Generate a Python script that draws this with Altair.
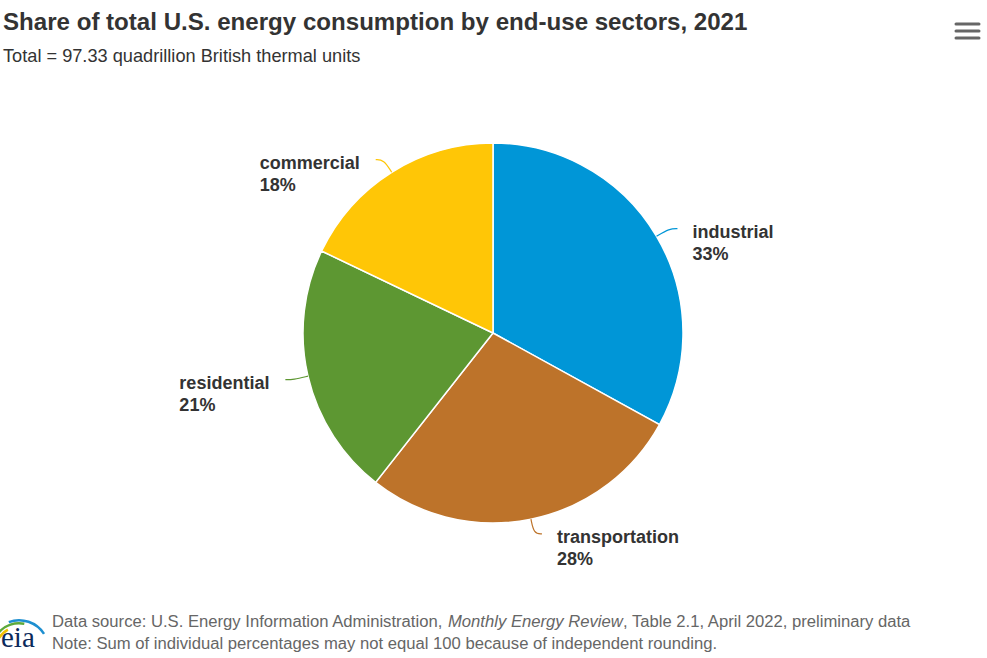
import math
import altair as alt
import pandas as pd

# ---- data ----
sectors = ["industrial", "transportation", "residential", "commercial"]
shares = [33.0, 27.6, 21.5, 17.9]
pct_labels = ["33%", "28%", "21%", "18%"]
colors = ["#0096D7", "#BD732A", "#5D9732", "#FFC606"]

title_text = "Share of total U.S. energy consumption by end-use sectors, 2021"
subtitle_text = "Total = 97.33 quadrillion British thermal units"
source_a = "Data source: U.S. Energy Information Administration,"
source_b = "Monthly Energy Review"
source_c = ", Table 2.1, April 2022, preliminary data"
note_text = "Note: Sum of individual percentages may not equal 100 because of independent rounding."

# ---- style ----
FONT = "Liberation Sans"
W, H = 987, 658
CX, CY, R = 493, 333, 190
LABEL_SIZE = 18
# approximate rendered width (px) of the bold sector names at LABEL_SIZE,
# used to left-align both label lines for labels on the left side
NAME_W = {"industrial": 81, "transportation": 122, "residential": 90, "commercial": 100}

df = pd.DataFrame({"sector": sectors, "share": shares, "pct": pct_labels,
                   "order": list(range(len(sectors)))})
df["name_w"] = df["sector"].map(NAME_W)

color = alt.Color("sector:N", scale=alt.Scale(domain=sectors, range=colors), legend=None)
base = alt.Chart(df)

pie = base.mark_arc(radius=R, stroke="white", strokeWidth=1.5).encode(
    theta=alt.Theta("share:Q", stack=True),
    order=alt.Order("order:Q"),
    color=color,
    x=alt.value(CX), y=alt.value(CY),
)

geo = base.transform_window(
    cum="sum(share)", sort=[alt.SortField("order")], frame=[None, 0]
).transform_joinaggregate(
    total="sum(share)"
).transform_calculate(
    mid="(datum.cum - datum.share/2) / datum.total * 2 * PI"
).transform_calculate(
    side="sin(datum.mid) >= 0 ? 1 : -1",
    ex=f"{CX} + {R + 15} * sin(datum.mid)",
    ey=f"{CY} - {R + 15} * cos(datum.mid)",
)

connectors = geo.transform_calculate(
    k="[0, 1, 2]"
).transform_flatten(["k"]).transform_calculate(
    lx=f"datum.k == 0 ? {CX} + {R} * sin(datum.mid) : (datum.k == 1 ? datum.ex : datum.ex + datum.side * 8)",
    ly=f"datum.k == 0 ? {CY} - {R} * cos(datum.mid) : datum.ey",
).mark_line(interpolate="basis", strokeWidth=1.2).encode(
    x=alt.X("lx:Q", scale=None, axis=None),
    y=alt.Y("ly:Q", scale=None, axis=None),
    order=alt.Order("k:Q"),
    detail="sector:N",
    color=color,
)

labels = geo.transform_calculate(
    tx="datum.side > 0 ? datum.ex + 23 : datum.ex - 24 - datum.name_w",
    ty="datum.ey + 9.5",
    lbl="datum.sector + '\\n' + datum.pct",
).mark_text(
    align="left", baseline="alphabetic", font=FONT, fontSize=LABEL_SIZE,
    fontWeight="bold", color="#333333", lineBreak="\n", lineHeight=22,
).encode(
    x=alt.X("tx:Q", scale=None, axis=None),
    y=alt.Y("ty:Q", scale=None, axis=None),
    text="lbl:N",
)


def static_text(txt, x, y, **kw):
    opts = dict(align="left", baseline="alphabetic", font=FONT)
    opts.update(kw)
    return alt.Chart(pd.DataFrame({"t": [txt]})).mark_text(**opts).encode(
        text="t:N", x=alt.value(x), y=alt.value(y)
    )


FOOT = 16.65
title = static_text(title_text, 3, 30, fontSize=24.1, fontWeight="bold", color="#333333")
subtitle = static_text(subtitle_text, 3, 62, fontSize=18.2, color="#333333")
src_a = static_text(source_a, 52, 627, fontSize=FOOT, color="#666666")
src_b = static_text(source_b, 448, 627, fontSize=FOOT, color="#666666", fontStyle="italic")
src_c = static_text(source_c, 623, 627, fontSize=FOOT, color="#666666")
note = static_text(note_text, 52, 649, fontSize=FOOT, color="#666666")

# menu icon
menu = alt.Chart(pd.DataFrame({"y": [24, 31, 38]})).mark_rule(
    strokeWidth=3, color="#666666", strokeCap="round"
).encode(x=alt.value(956), x2=alt.value(979), y=alt.Y("y:Q", scale=None, axis=None))

# eia logo (approximation)
TAU = 2 * math.pi
logo_txt = static_text("eia", 1, 647, fontSize=29, font="Liberation Serif", color="#0B2A5B")
logo_arcs = []
for c, r0, t0, t1 in [("#F2C200", 22, -1.25, -0.5), ("#5DA93A", 25.5, -0.85, 0.2), ("#1E8FD0", 28.5, -0.35, 1.0)]:
    logo_arcs.append(
        alt.Chart(pd.DataFrame({"a": [1]})).mark_arc(
            radius=r0 + 2.5, radius2=r0, theta=TAU + t0, theta2=TAU + t1, color=c
        ).encode(x=alt.value(19), y=alt.value(650))
    )

chart = alt.layer(
    pie, connectors, labels, title, subtitle, src_a, src_b, src_c, note,
    menu, *logo_arcs, logo_txt,
).properties(
    width=W, height=H, padding=0, autosize=alt.AutoSizeParams(type="none"),
    background="white",
).configure_view(strokeWidth=0)

chart.save("out.html", embed_options={"renderer": "svg", "actions": False})
